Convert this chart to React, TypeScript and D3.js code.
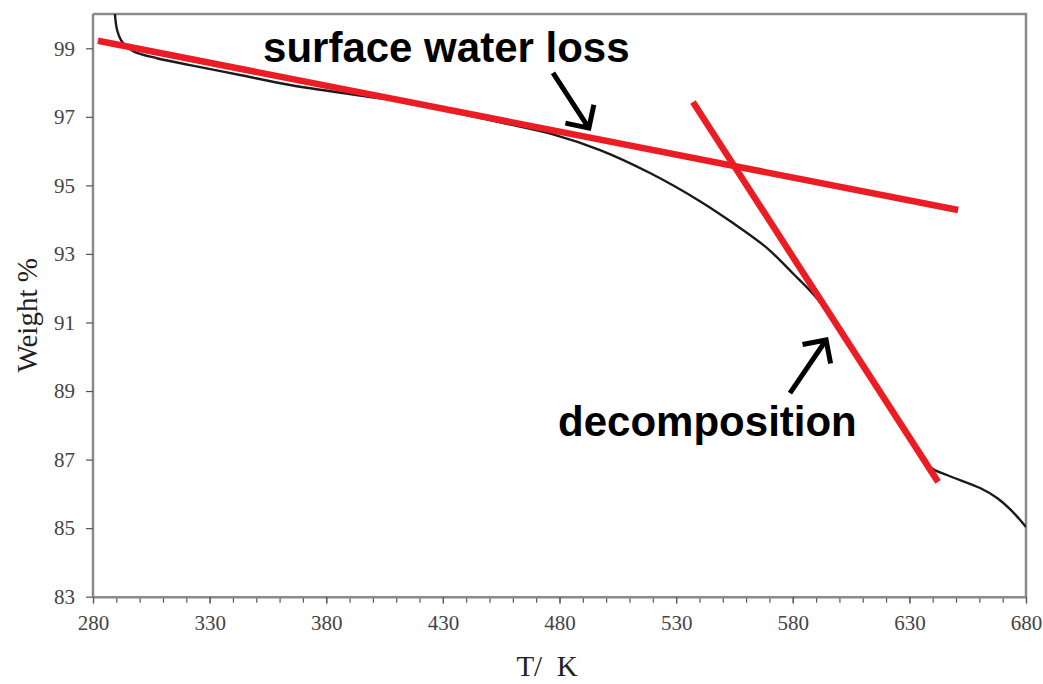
import React, { useEffect, useRef } from "react";
import * as d3 from "d3";

// Thermogravimetric trace: temperature (K) vs remaining weight (%)
const tempK = [289.4, 290.3, 292.0, 294.6, 298.0, 307.4, 321.6, 343.0, 364.5, 398.8, 411.6, 433.1, 454.5, 477.2, 497.4, 518.8, 540.2, 554.4, 569.0, 580.1, 589.5, 604.5, 626.0, 638.8, 646.1, 660.3, 667.6, 674.4, 680];
const weightPct = [100.0, 99.54, 99.24, 99.04, 98.89, 98.71, 98.51, 98.22, 97.93, 97.58, 97.46, 97.16, 96.84, 96.49, 96.03, 95.36, 94.54, 93.9, 93.17, 92.43, 91.77, 90.35, 88.07, 86.79, 86.55, 86.17, 85.88, 85.47, 85.03];

// Tangent lines: [T, W] endpoints
const tangentSurface: [number, number][] = [[282.1, 99.22], [650.9, 94.28]];
const tangentDecomp: [number, number][] = [[537.2, 97.43], [642.3, 86.35]];

// Axis ticks
const xMajorTicks = [280, 330, 380, 430, 480, 530, 580, 630, 680];
const xMinorTicks = d3.range(280, 681, 10);
const yTicks = [83, 85, 87, 89, 91, 93, 95, 97, 99];

// Annotations placed in data space
const labels = [
  { text: "surface water loss", t: 352.9, w: 98.6 },
  { text: "decomposition", t: 479.4, w: 87.68 },
];
const arrows = [
  { from: [477.2, 98.28], to: [492.6, 96.67] },
  { from: [578.8, 88.94], to: [594.3, 90.49] },
];

const W = 1043;
const H = 684;
const plot = { left: 93, right: 1026, top: 14, bottom: 596.7 };

export default function App() {
  const ref = useRef<SVGSVGElement>(null);

  useEffect(() => {
    const svg = d3.select(ref.current);
    svg.selectAll("*").remove();

    const x = d3.scaleLinear().domain([280, 680]).range([plot.left, plot.right]);
    const y = d3.scaleLinear().domain([83, 100]).range([plot.bottom, plot.top]);

    svg.append("rect").attr("width", W).attr("height", H).attr("fill", "#fff");

    const axisColor = "#8a8a8a";
    const tickFont = "Liberation Serif, serif";

    // frame (top and right)
    svg.append("path")
      .attr("d", `M${plot.left},${plot.top}H${plot.right}V${plot.bottom}`)
      .attr("fill", "none").attr("stroke", axisColor).attr("stroke-width", 2.5);

    // x axis minor ticks
    const gMinor = svg.append("g").attr("transform", `translate(0,${plot.bottom})`)
      .call(d3.axisBottom(x).tickValues(xMinorTicks).tickSize(6).tickFormat(() => ""));
    gMinor.select(".domain").remove();
    gMinor.selectAll("line").attr("stroke", "#555").attr("stroke-width", 1.2);

    // x axis majors
    const gx = svg.append("g").attr("transform", `translate(0,${plot.bottom})`)
      .call(d3.axisBottom(x).tickValues(xMajorTicks).tickSize(7).tickSizeOuter(0).tickPadding(11).tickFormat(d3.format("d")));
    gx.select(".domain").attr("stroke", axisColor).attr("stroke-width", 2.5);
    gx.selectAll("line").attr("stroke", "#555").attr("stroke-width", 1.2);
    gx.selectAll("text").attr("fill", "#444").attr("font-family", tickFont).attr("font-size", 21);

    // y axis
    const gy = svg.append("g").attr("transform", `translate(${plot.left},0)`)
      .call(d3.axisLeft(y).tickValues(yTicks).tickSize(7).tickSizeOuter(0).tickPadding(11).tickFormat(d3.format("d")));
    gy.select(".domain").attr("stroke", axisColor).attr("stroke-width", 2.5)
      .attr("d", `M0,${plot.bottom}V${plot.top}`);
    gy.selectAll("line").attr("stroke", "#555").attr("stroke-width", 1.2);
    gy.selectAll("text").attr("fill", "#444").attr("font-family", tickFont).attr("font-size", 21);

    // axis titles
    svg.append("text")
      .attr("transform", `translate(37,${(plot.top + plot.bottom) / 2 + 10}) rotate(-90)`)
      .attr("text-anchor", "middle")
      .attr("font-family", tickFont).attr("font-size", 29).attr("fill", "#222")
      .text("Weight %");
    svg.append("text")
      .attr("x", 547).attr("y", 676)
      .attr("text-anchor", "middle")
      .attr("font-family", tickFont).attr("font-size", 29).attr("fill", "#222")
      .attr("xml:space", "preserve")
      .text("T/  K");

    // clip for the data line
    svg.append("clipPath").attr("id", "plotClip").append("rect")
      .attr("x", plot.left).attr("y", plot.top)
      .attr("width", plot.right - plot.left).attr("height", plot.bottom - plot.top);

    const pts: [number, number][] = tempK.map((t, i) => [t, weightPct[i]]);
    const line = d3.line<[number, number]>()
      .x((d) => x(d[0])).y((d) => y(d[1]))
      .curve(d3.curveCatmullRom.alpha(0.5));

    svg.append("path")
      .attr("d", line(pts) ?? "")
      .attr("clip-path", "url(#plotClip)")
      .attr("fill", "none").attr("stroke", "#1a1a1a").attr("stroke-width", 2.4);

    const straight = d3.line<[number, number]>().x((d) => x(d[0])).y((d) => y(d[1]));
    [tangentSurface, tangentDecomp].forEach((seg) => {
      svg.append("path")
        .attr("d", straight(seg) ?? "")
        .attr("fill", "none").attr("stroke", "#ec1c24").attr("stroke-width", 6.5);
    });

    // annotation labels
    labels.forEach((l) => {
      svg.append("text")
        .attr("x", x(l.t)).attr("y", y(l.w))
        .attr("font-family", "Liberation Sans, Arial, sans-serif")
        .attr("font-weight", "bold").attr("font-size", 42).attr("fill", "#000")
        .text(l.text);
    });

    // arrows with open heads
    arrows.forEach((a) => {
      const x0 = x(a.from[0]), y0 = y(a.from[1]);
      const x1 = x(a.to[0]), y1 = y(a.to[1]);
      const ang = Math.atan2(y0 - y1, x0 - x1);
      const len = 24;
      const spread = Math.PI / 4;
      const hx1 = x1 + len * Math.cos(ang + spread), hy1 = y1 + len * Math.sin(ang + spread);
      const hx2 = x1 + len * Math.cos(ang - spread), hy2 = y1 + len * Math.sin(ang - spread);
      svg.append("path")
        .attr("d", `M${x0},${y0}L${x1},${y1}M${hx1},${hy1}L${x1},${y1}L${hx2},${hy2}`)
        .attr("fill", "none").attr("stroke", "#000").attr("stroke-width", 5)
        .attr("stroke-linejoin", "miter").attr("stroke-linecap", "butt");
    });
  }, []);

  return (
    <svg
      ref={ref}
      width={W}
      height={H}
      style={{ position: "absolute", left: 0, top: 0, display: "block" }}
    />
  );
}
